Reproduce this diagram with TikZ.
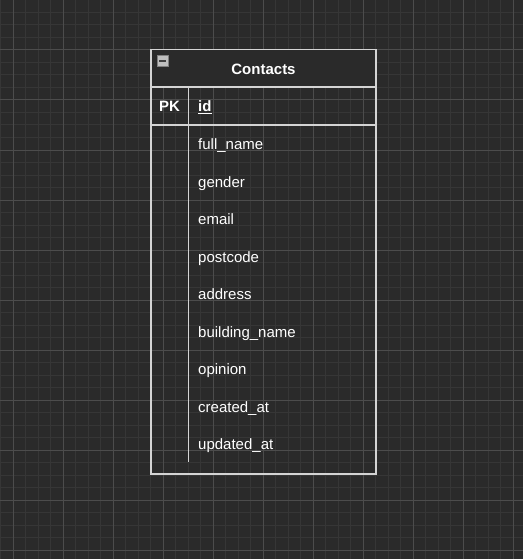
\documentclass[tikz,border=0pt]{standalone}
\usepackage{fontspec}
\setmainfont{Liberation Sans}
\definecolor{bgdark}{HTML}{2A2A2A}
\definecolor{gridminor}{HTML}{363636}
\definecolor{gridmajor}{HTML}{4C4C4C}
\definecolor{tablestroke}{HTML}{D4D4D4}
\tikzset{
  minorline/.style={draw=gridminor, line width=1},
  majorline/.style={draw=gridmajor, line width=1},
  tableline/.style={draw=tablestroke, line width=1.2},
  field/.style={anchor=base west, text=white, inner sep=0pt,
    font=\fontsize{15}{18}\selectfont},
  title/.style={field, anchor=base, font=\fontsize{15}{18}\selectfont\bfseries}
}
\begin{document}
\begin{tikzpicture}[x=1pt, y=-1pt]
\useasboundingbox[fill=bgdark] (0,0) rectangle (523,559);
% grid
\foreach \x in {0.8,13.3,...,523} \draw[minorline] (\x,0) -- (\x,559);
\foreach \y in {0,12.5,...,559} \draw[minorline] (0,\y) -- (523,\y);
\foreach \x in {13.3,63.3,...,523} \draw[majorline] (\x,0) -- (\x,559);
\foreach \y in {0,50,...,559} \draw[majorline] (0,\y) -- (523,\y);
% table
\draw[tableline, fill=bgdark] (151,49.5) rectangle (376,87);
\draw[tableline] (151,87) rectangle (376,474);
\draw[tableline] (188.5,87) -- (188.5,462);
\draw[tableline, line width=1.8] (151,125) -- (376,125);
\node[draw=gray, fill=lightgray, minimum size=11pt, inner sep=0pt] (collapse) at (162.5,61) {};
\draw[black!75, line width=1.5] ([xshift=2.5pt]collapse.west) -- ([xshift=-2.5pt]collapse.east);
\node[title] (contacts) at (263.5,75) {Contacts};
\node[field, font=\fontsize{15}{18}\selectfont\bfseries] (pk) at (159,112) {PK};
\node[field, font=\fontsize{15}{18}\selectfont\bfseries] (id) at (198,112) {\underline{id}};
\foreach \name [count=\i] in {full\_name, gender, email, postcode, address,
    building\_name, opinion, created\_at, updated\_at}
  \node[field] (row\i) at (198,112+37.5*\i) {\name};
\end{tikzpicture}
\end{document}
